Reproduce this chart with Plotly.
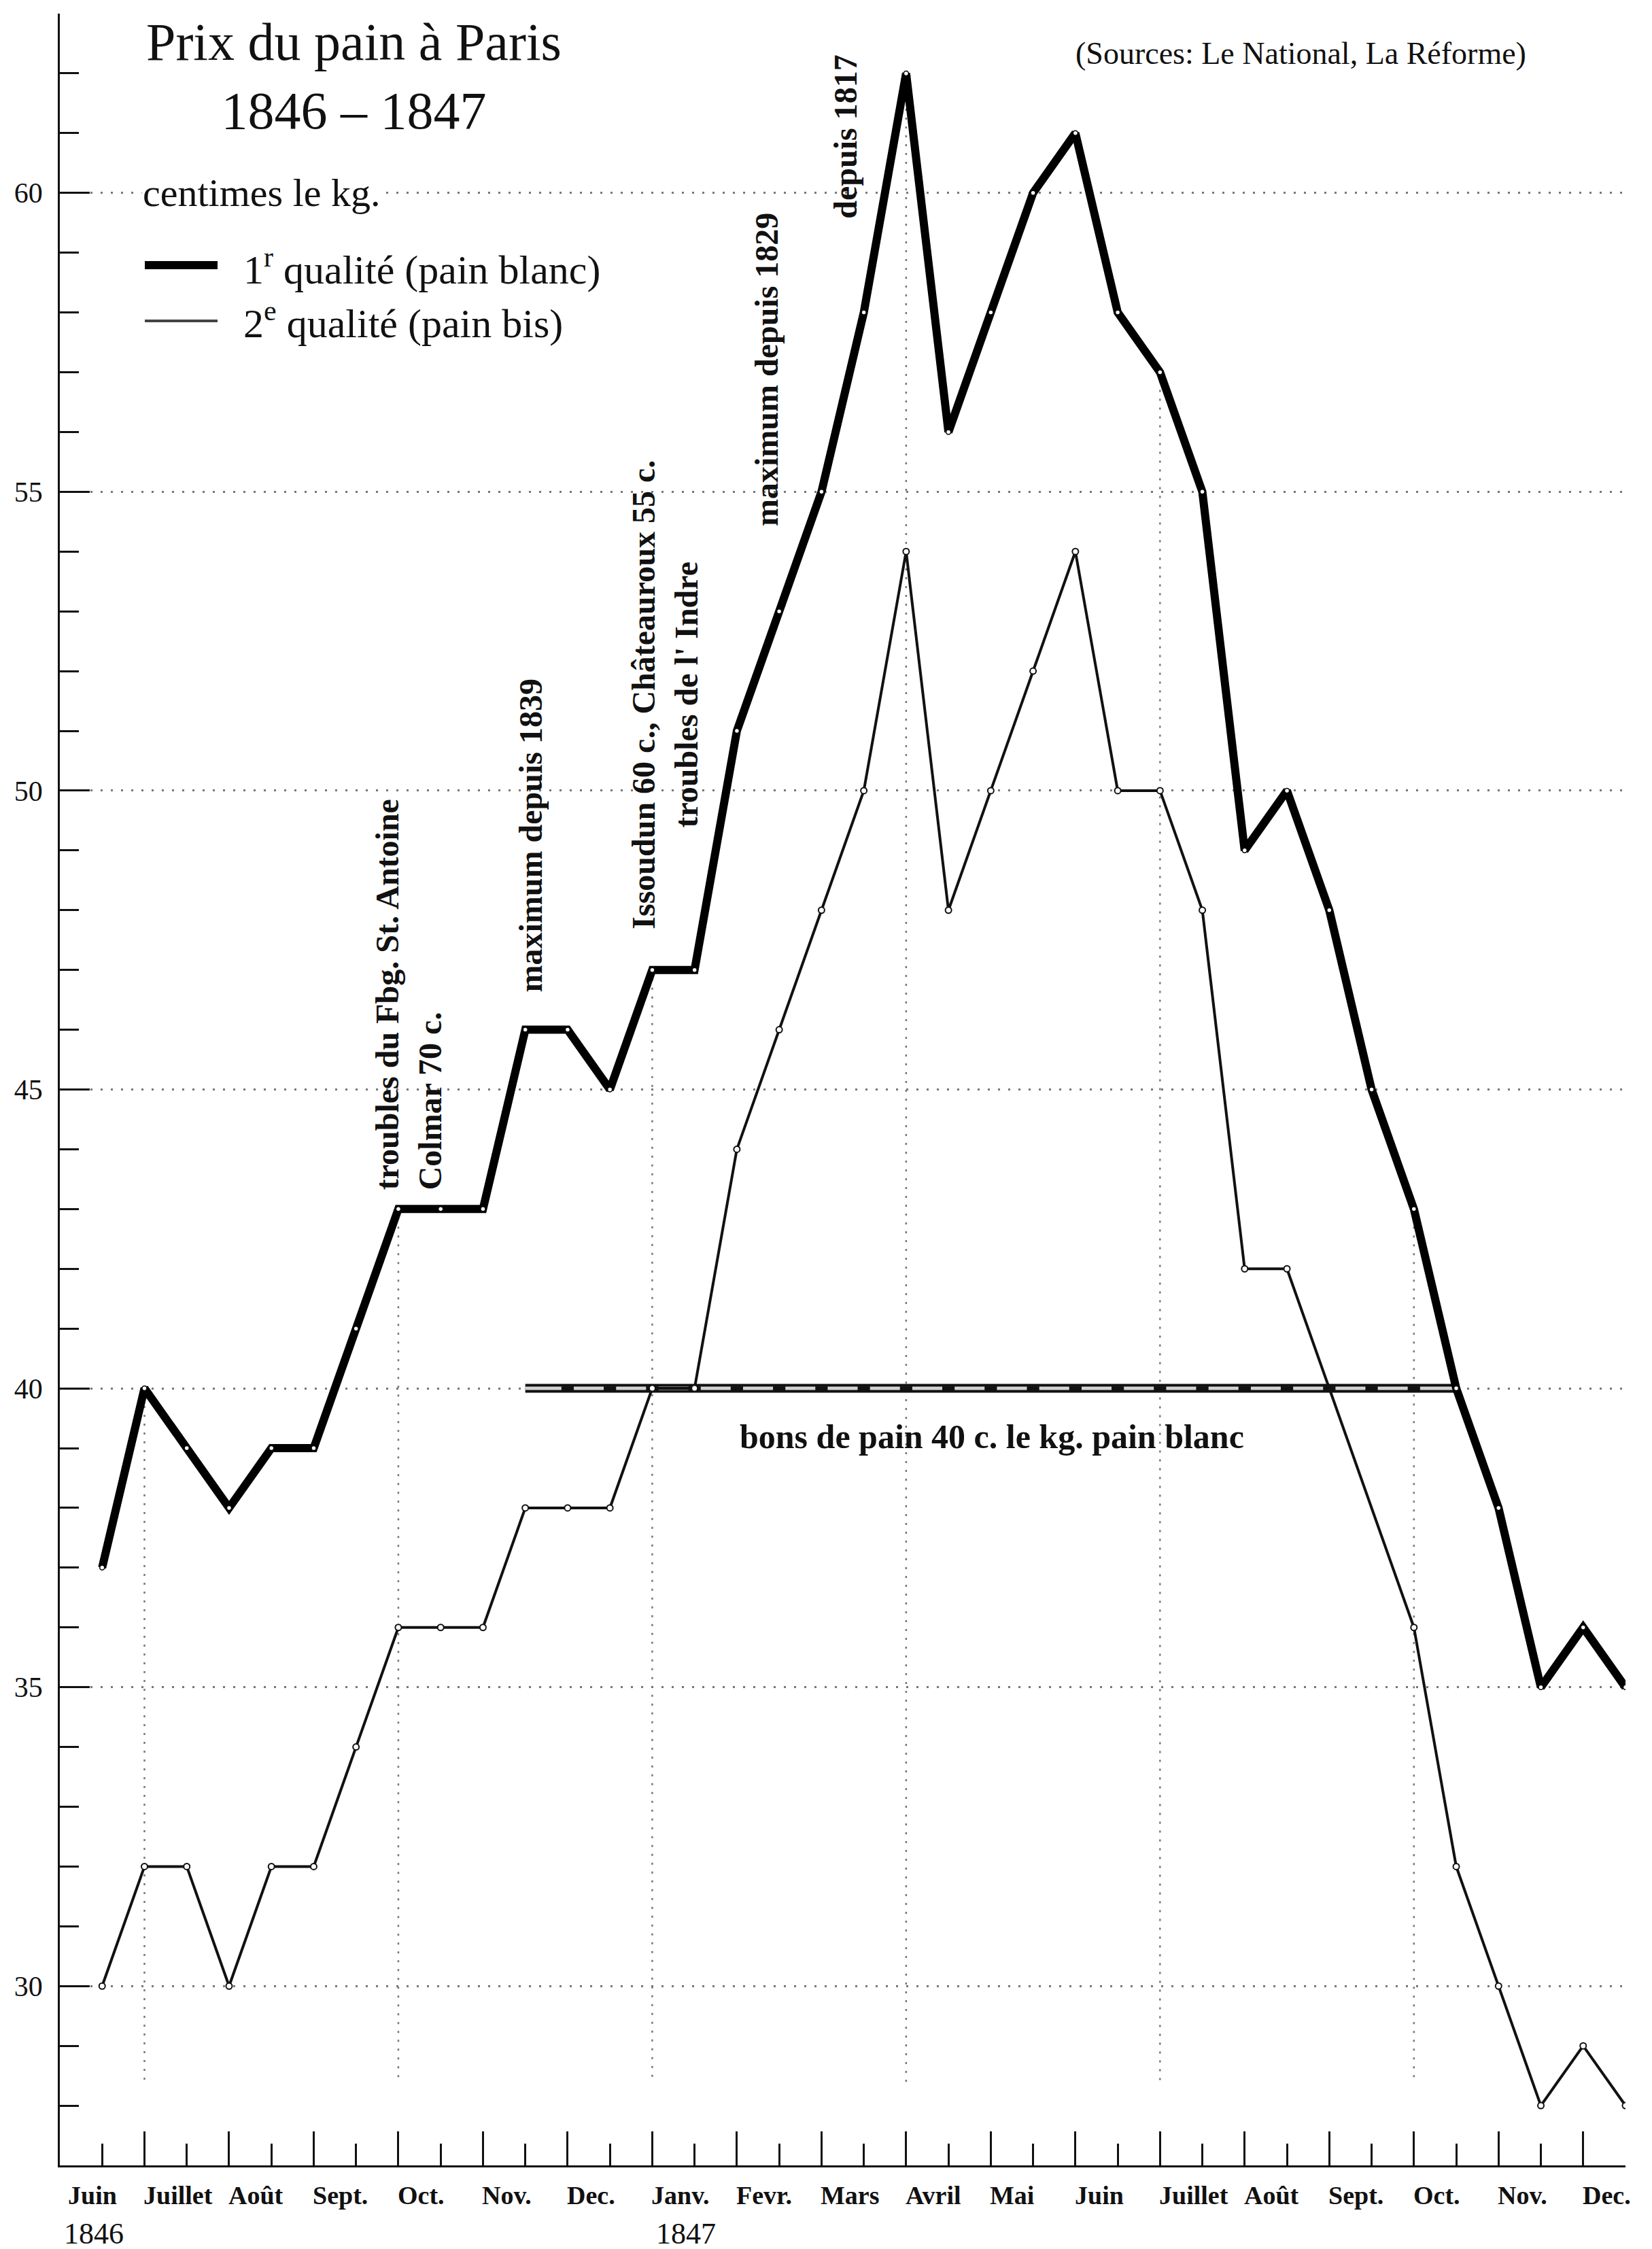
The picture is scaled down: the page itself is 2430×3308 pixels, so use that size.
import plotly.graph_objects as go

# ---------------- data ----------------
# x = half-month index: 0 = mid-June 1846 ... 36 = end of December 1847
idx = list(range(37))
qual1 = [37, 40, 39, 38, 39, 39, 41, 43, 43, 43,
         46, 46, 45, 47, 47, 51, 53, 55, 58, 62,
         56, 58, 60, 61, 58, 57, 55, 49, 50, 48,
         45, 43, 40, 38, 35, 36, 35]
qual2_idx = list(range(0, 29)) + list(range(31, 37))
qual2 = [30, 32, 32, 30, 32, 32, 34, 36, 36, 36,
         38, 38, 38, 40, 40, 44, 46, 48, 50, 54,
         48, 50, 52, 54, 50, 50, 48, 42, 42,
         36, 32, 30, 28, 29, 28]

months = ["Juin", "Juillet", "Août", "Sept.", "Oct.", "Nov.", "Dec.", "Janv.", "Fevr.",
          "Mars", "Avril", "Mai", "Juin", "Juillet", "Août", "Sept.", "Oct.", "Nov.", "Dec."]
month_idx = [-1, 1, 3, 5, 7, 9, 11, 13, 15, 17, 19, 21, 23, 25, 27, 29, 31, 33, 35]
years = ["1846", "1847"]
year_idx = [-1, 13]

bons_start, bons_end, bons_value = 10, 32, 40
vgrid_idx = [1, 7, 13, 19, 25, 31]
grid_floor = 28.4

# ---------------- geometry helpers (text placement only) ----------------
W, H = 2430, 3308
L, R, T, B = 80, 2383, 12, 3177


def px(x):
    return (x - L) / (R - L)


def py(y):
    return (B - y) / (B - T)


SERIF = "Liberation Serif"
fig = go.Figure()

# vertical dotted guide lines from the 1st-quality curve down
vx, vy = [], []
for q in vgrid_idx:
    vx += [q, q, None]
    vy += [qual1[q], grid_floor, None]
fig.add_trace(go.Scatter(x=vx, y=vy, mode="lines",
                         line=dict(color="#777777", width=2.5, dash="3px,10px"),
                         hoverinfo="skip", showlegend=False))

# bons de pain line (black-bordered band, grey core, black blocks)
bx = list(range(bons_start, bons_end + 1))
by = [bons_value] * len(bx)
fig.add_trace(go.Scatter(x=bx, y=by, mode="lines", line=dict(color="#111111", width=13),
                         hoverinfo="skip", showlegend=False))
fig.add_trace(go.Scatter(x=bx, y=by, mode="lines", line=dict(color="#d2d2d2", width=5),
                         hoverinfo="skip", showlegend=False))
fig.add_trace(go.Scatter(x=bx[1:-1], y=by[1:-1], mode="markers",
                         marker=dict(symbol="line-ew", size=13, color="#111111",
                                     line=dict(color="#111111", width=6)),
                         hoverinfo="skip", showlegend=False))

# 2e qualité
fig.add_trace(go.Scatter(x=qual2_idx, y=qual2, mode="lines+markers",
                         line=dict(color="#111111", width=4),
                         marker=dict(symbol="circle", size=9, color="white",
                                     line=dict(color="#111111", width=2)),
                         name="2e qualité (pain bis)", showlegend=False))
# 1re qualité
fig.add_trace(go.Scatter(x=idx, y=qual1, mode="lines+markers",
                         line=dict(color="#000000", width=12),
                         marker=dict(symbol="circle", size=7, color="white",
                                     line=dict(color="#000000", width=1.5)),
                         name="1r qualité (pain blanc)", showlegend=False))

ann = []
# title
ann.append(dict(x=px(512), y=py(104), xref="paper", yref="paper", xanchor="center", yanchor="middle",
                text="Prix du pain à Paris<br>1846 – 1847", showarrow=False,
                font=dict(family=SERIF, size=78, color="#111")))
ann.append(dict(x=px(1905), y=py(70), xref="paper", yref="paper", xanchor="center", yanchor="middle",
                text="(Sources: Le National, La Réforme)", showarrow=False,
                font=dict(family=SERIF, size=46, color="#111")))
ann.append(dict(x=px(200), y=py(276), xref="paper", yref="paper", xanchor="left", yanchor="middle",
                text="centimes le kg.", showarrow=False, bgcolor="white",
                font=dict(family=SERIF, size=58, color="#111")))
ann.append(dict(x=px(348), y=py(384), xref="paper", yref="paper", xanchor="left", yanchor="middle",
                text="1<sup>r</sup> qualité (pain blanc)", showarrow=False,
                font=dict(family=SERIF, size=60, color="#111")))
ann.append(dict(x=px(348), y=py(464), xref="paper", yref="paper", xanchor="left", yanchor="middle",
                text="2<sup>e</sup> qualité (pain bis)", showarrow=False,
                font=dict(family=SERIF, size=60, color="#111")))

# rotated event annotations
rot = [
    ("troubles du Fbg. St. Antoine<br>Colmar 70 c.", 7.24, 43.3, "left"),
    ("maximum depuis 1839", 10.12, 46.6, "left"),
    ("Issoudun 60 c., Châteauroux 55 c.<br>troubles de l' Indre", 13.3, 47.66, "center"),
    ("maximum depuis 1829", 15.7, 54.4, "left"),
    ("depuis 1817", 17.57, 59.55, "left"),
]
for txt, xx, yy, al in rot:
    ann.append(dict(x=xx, y=yy, xref="x", yref="y", xanchor="center", yanchor="bottom",
                    text=txt, textangle=-90, align=al, showarrow=False,
                    font=dict(family=SERIF, size=48, color="#111", weight="bold")))

ann.append(dict(x=21.03, y=39.19, xref="x", yref="y", xanchor="center", yanchor="middle",
                text="bons de pain 40 c. le kg. pain blanc", showarrow=False,
                font=dict(family=SERIF, size=50, color="#111", weight="bold")))

# month labels (left aligned at the long ticks)
for i, (m, mi) in enumerate(zip(months, month_idx)):
    ann.append(dict(x=mi, y=py(3221), xref="x", yref="paper", xanchor="left", yanchor="middle",
                    xshift=(10 if i == 0 else -3), text=m, showarrow=False,
                    font=dict(family=SERIF, size=38, color="#111", weight="bold")))
for yv, yi in zip(years, year_idx):
    ann.append(dict(x=yi, y=py(3277), xref="x", yref="paper", xanchor="left", yanchor="middle",
                    xshift=4, text=yv, showarrow=False,
                    font=dict(family=SERIF, size=44, color="#111")))

shapes = [
    dict(type="line", xref="paper", yref="paper", x0=px(205), x1=px(312), y0=py(382), y1=py(382),
         line=dict(color="#000", width=12)),
    dict(type="line", xref="paper", yref="paper", x0=px(205), x1=px(312), y0=py(464), y1=py(464),
         line=dict(color="#444", width=4)),
]

fig.update_layout(
    width=W, height=H,
    margin=dict(l=L, r=W - R, t=T, b=H - B),
    plot_bgcolor="white", paper_bgcolor="white",
    showlegend=False,
    annotations=ann, shapes=shapes,
    xaxis=dict(range=[-1, 36], showline=True, linecolor="#111", linewidth=3,
               ticks="inside", tickmode="array", tickvals=[i for i in idx if i % 2 == 1],
               ticklen=50, tickwidth=2.5, tickcolor="#111",
               showticklabels=False, showgrid=False, zeroline=False,
               minor=dict(tickmode="linear", tick0=0, dtick=1, ticks="inside", ticklen=32,
                          tickwidth=2.5, tickcolor="#111", showgrid=False)),
    yaxis=dict(range=[27, 63], showline=True, linecolor="#111", linewidth=2.5,
               ticks="inside", tickmode="linear", tick0=30, dtick=5,
               ticklen=44, tickwidth=2.5, tickcolor="#111",
               showgrid=True, gridcolor="#777777", gridwidth=2.5, griddash="3px,12px",
               zeroline=False, ticklabelstandoff=14,
               tickfont=dict(family=SERIF, size=42, color="#111"),
               minor=dict(tickmode="linear", tick0=27, dtick=1, ticks="inside", ticklen=28,
                          tickwidth=2.5, tickcolor="#111", showgrid=False)),
)

fig.write_html("out.html")
